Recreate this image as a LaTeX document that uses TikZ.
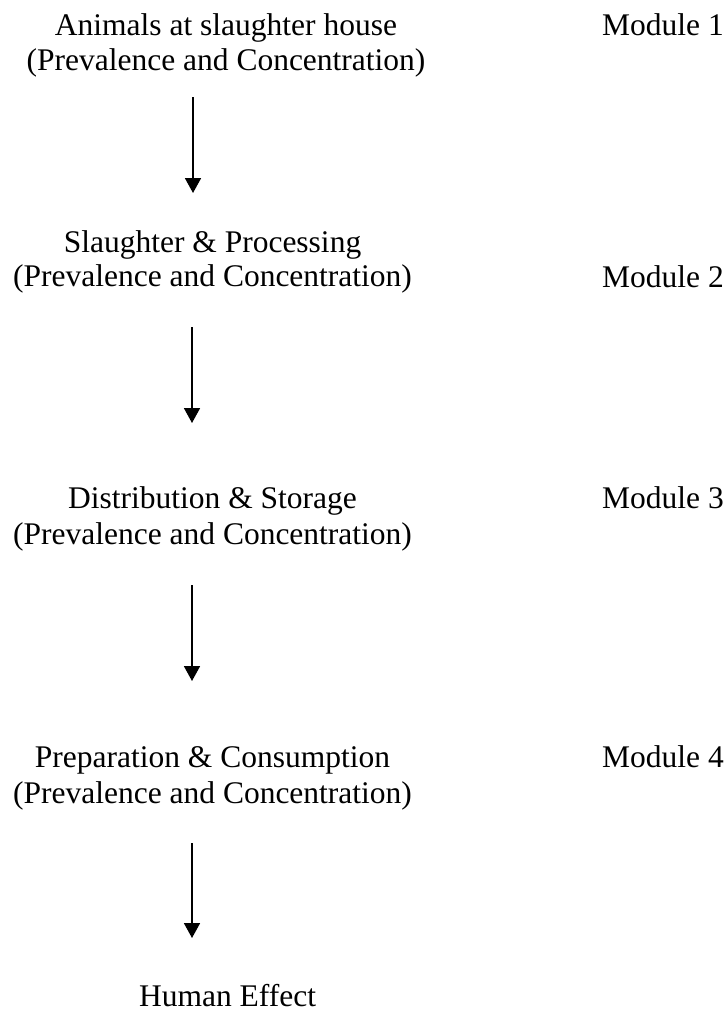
\documentclass[tikz,border=0pt]{standalone}
\usepackage{fontspec}
\setmainfont{Liberation Serif}
\usetikzlibrary{arrows.meta}
\tikzset{
  txt/.style={inner sep=0pt, anchor=base, font=\fontsize{31.5pt}{35pt}\selectfont},
  modl/.style={txt, anchor=base west},
  flow/.style={line width=1.8pt, -{Triangle[width=16pt,length=15pt]}}
}
\begin{document}
\begin{tikzpicture}[x=1pt,y=-1pt]
\useasboundingbox[fill=white] (0,0) rectangle (728,1012);
% block 1
\node[txt] (b1a) at (226,35) {Animals at slaughter house};
\node[txt] (b1b) at (226,70) {(Prevalence and Concentration)};
\node[modl] (m1) at (602,35) {Module 1};
% block 2
\node[txt] (b2a) at (212.5,252) {Slaughter \& Processing};
\node[txt] (b2b) at (212.5,286) {(Prevalence and Concentration)};
\node[modl] (m2) at (602,287) {Module 2};
% block 3
\node[txt] (b3a) at (212.5,508) {Distribution \& Storage};
\node[txt] (b3b) at (212.5,544) {(Prevalence and Concentration)};
\node[modl] (m3) at (602,508) {Module 3};
% block 4
\node[txt] (b4a) at (212.5,767) {Preparation \& Consumption};
\node[txt] (b4b) at (212.5,803) {(Prevalence and Concentration)};
\node[modl] (m4) at (602,767) {Module 4};
% end
\node[txt] (he) at (227.5,1006) {Human Effect};
% arrow coordinates
\coordinate (a1s) at (193,97);  \coordinate (a1e) at (193,193);
\coordinate (a2s) at (192,327); \coordinate (a2e) at (192,423);
\coordinate (a3s) at (192,585); \coordinate (a3e) at (192,681);
\coordinate (a4s) at (192,843); \coordinate (a4e) at (192,938);
\draw[flow] (a1s) -- (a1e);
\draw[flow] (a2s) -- (a2e);
\draw[flow] (a3s) -- (a3e);
\draw[flow] (a4s) -- (a4e);
\end{tikzpicture}
\end{document}
